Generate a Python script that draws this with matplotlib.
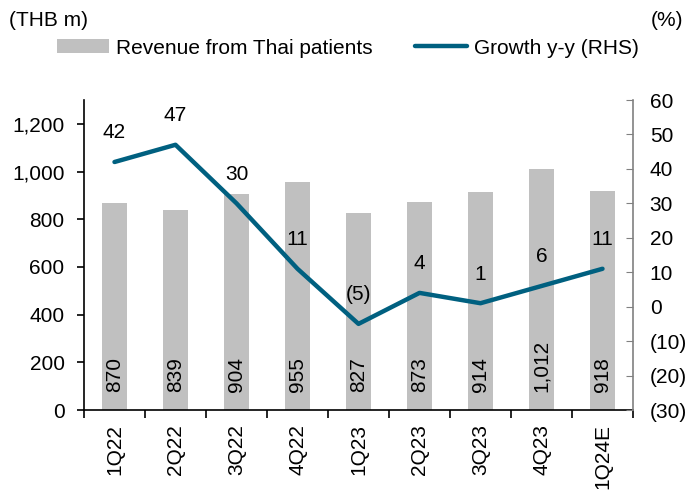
import matplotlib.pyplot as plt
import numpy as np
from matplotlib.patches import Patch
from matplotlib.lines import Line2D

quarters = ['1Q22', '2Q22', '3Q22', '4Q22', '1Q23', '2Q23', '3Q23', '4Q23', '1Q24E']
revenue = [870, 839, 904, 955, 827, 873, 914, 1012, 918]
growth = [42, 47, 30, 11, -5, 4, 1, 6, 11]

bar_color = '#C0C0C0'
line_color = '#006080'
fs = 15

plt.rcParams['font.family'] = ['Liberation Sans', 'DejaVu Sans']
plt.rcParams['font.size'] = fs


def fmt_num(v):
    # negatives in brackets, thousands with comma
    if v < 0:
        return f'({abs(v):,.0f})'
    return f'{v:,.0f}'


fig = plt.figure(figsize=(6.9, 4.9), dpi=100)
ax = fig.add_axes([84 / 690, 1 - 410 / 490, (633 - 84) / 690, 310 / 490])
ax2 = ax.twinx()

x = np.arange(len(quarters))
ax.bar(x, revenue, width=0.4, color=bar_color, zorder=1)
for xi, v in zip(x, revenue):
    ax.annotate(fmt_num(v), (xi, 0), xytext=(0, 13), textcoords='offset points',
                rotation=90, ha='center', va='bottom', fontsize=fs)

ax.set_xlim(-0.5, len(quarters) - 0.5)
ax.set_ylim(0, 1300)
ax.set_yticks(range(0, 1201, 200))
ax.set_yticklabels([fmt_num(v) for v in range(0, 1201, 200)])
ax.set_xticks(x)
ax.set_xticklabels(quarters, rotation=90)
ax.tick_params(axis='x', length=0, pad=10)
ax.set_xticks(np.arange(-0.5, len(quarters), 1), minor=True)
ax.tick_params(axis='x', which='minor', length=6, width=1.2, color='black')
ax.tick_params(axis='y', length=5, width=1.2, direction='out', pad=9)
for s in ['top', 'right']:
    ax.spines[s].set_visible(False)
ax.spines['left'].set_linewidth(1.2)
ax.spines['bottom'].set_linewidth(1.2)

ax2.plot(x, growth, color=line_color, linewidth=3.2, solid_capstyle='round', zorder=3)
for xi, v in zip(x, growth):
    ax2.annotate(fmt_num(v), (xi, v), xytext=(0, 21), textcoords='offset points',
                 ha='center', va='center', fontsize=fs)
ax2.set_ylim(-30, 60)
ax2.set_yticks(range(-30, 61, 10))
ax2.set_yticklabels([fmt_num(v) for v in range(-30, 61, 10)])
ax2.tick_params(axis='y', direction='in', length=5, color='#808080', pad=12)
for s in ['top', 'left', 'bottom']:
    ax2.spines[s].set_visible(False)
ax2.spines['right'].set_color('#808080')
ax2.spines['right'].set_linewidth(1.2)

fig.text(9 / 690, 1 - 21 / 490, '(THB m)', ha='left', va='center', fontsize=fs)
fig.text(683 / 690, 1 - 21 / 490, '(%)', ha='right', va='center', fontsize=fs)

handles = [Patch(facecolor=bar_color, edgecolor='none', label='Revenue from Thai patients'),
           Line2D([0], [0], color=line_color, linewidth=3.2, solid_capstyle='round',
                  label='Growth y-y (RHS)')]
fig.legend(handles=handles, loc='center left', bbox_to_anchor=(57 / 690, 1 - 48 / 490),
           ncol=2, frameon=False, handlelength=2.5, handletextpad=0.35,
           columnspacing=2.0, fontsize=15, borderaxespad=0, borderpad=0)

fig.savefig('out.png', dpi=100)
